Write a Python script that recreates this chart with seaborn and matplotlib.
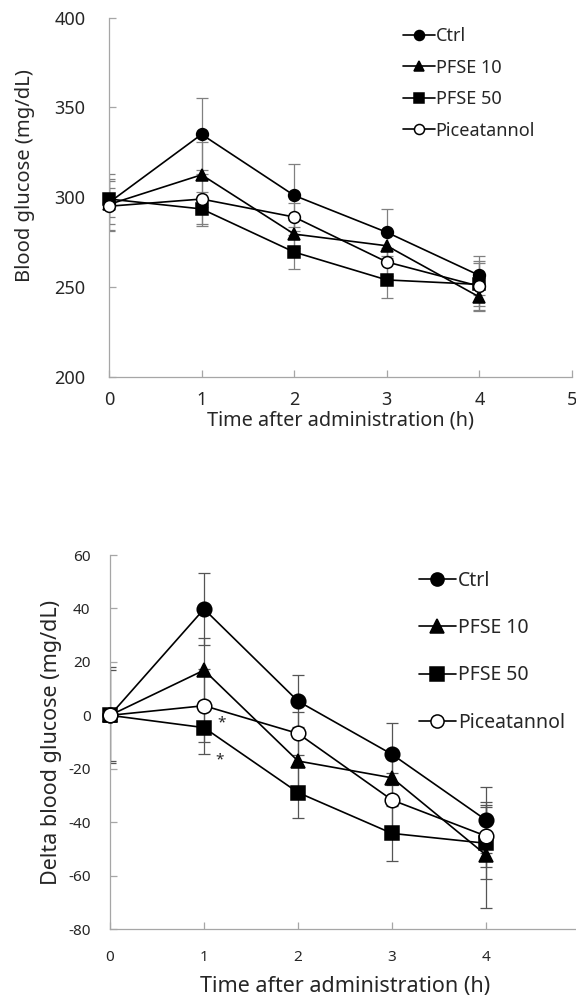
import matplotlib
matplotlib.use("Agg")
import matplotlib.pyplot as plt
import seaborn as sns
import pandas as pd

# time points (h)
times = [0, 1, 2, 3, 4]
groups = ["Ctrl", "PFSE 10", "PFSE 50", "Piceatannol"]

# blood glucose (mg/dL)
bg_ctrl = [297, 335, 301, 280.5, 256.5]
bg_pfse10 = [296, 312.5, 279.5, 273, 244.5]
bg_pfse50 = [299, 293.5, 269.5, 254, 251.5]
bg_pic = [295, 299, 289, 264, 250.5]

bg_err_ctrl = [16, 20, 17.5, 13, 11]
bg_err_pfse10 = [14, 18, 8, 7, 7.5]
bg_err_pfse50 = [10, 9.5, 9.5, 10, 12]
bg_err_pic = [10, 14, 8, 8, 14]

# delta blood glucose (mg/dL), bottom panel
d_ctrl = [0, 39.8, 5.3, -14.6, -39.2]
d_pfse10 = [0, 16.9, -17.1, -23.4, -52.3]
d_pfse50 = [0, -4.6, -28.9, -44.2, -47.9]
d_pic = [0, 3.6, -6.8, -31.7, -45.2]

d_err_ctrl = [17, 13.3, 9.8, 11.6, 12.5]
d_err_pfse10 = [18, 12, 10, 8, 20]
d_err_pfse50 = [0, 10, 9.7, 10.4, 13.4]
d_err_pic = [0, 13.7, 8, 10, 11.5]

markers = ["o", "^", "s", "o"]
faces = ["black", "black", "black", "white"]

sns.set_style("ticks")
plt.rcParams["font.family"] = ["Noto Sans", "DejaVu Sans"]
plt.rcParams["axes.unicode_minus"] = False

fig = plt.figure(figsize=(5.76, 10.01), dpi=100)
ax1 = fig.add_axes([0.1892, 0.6234, 0.8038, 0.3591])
ax2 = fig.add_axes([0.1910, 0.0719, 0.8160, 0.3736])

axis_grey = "#a6a6a6"


def draw_panel(ax, series, errors, msize, ecolor):
    rows = []
    for g, vals in zip(groups, series):
        for t, v in zip(times, vals):
            rows.append({"time": t, "value": v, "group": g})
    df = pd.DataFrame(rows)
    for vals, errs in zip(series, errors):
        ax.errorbar(times, vals, yerr=errs, fmt="none", ecolor=ecolor,
                    elinewidth=0.9, capsize=4, capthick=0.9, zorder=1)
    for i, (g, m, fc) in enumerate(zip(groups, markers, faces)):
        sns.lineplot(data=df[df["group"] == g], x="time", y="value", ax=ax,
                     color="black", marker=m, markerfacecolor=fc,
                     markeredgecolor="black", markeredgewidth=1.1,
                     markersize=msize, linewidth=1.2, label=g,
                     clip_on=False, zorder=3 + i)
    for side in ["top", "right"]:
        ax.spines[side].set_visible(False)
    for side in ["left", "bottom"]:
        ax.spines[side].set_color(axis_grey)
        ax.spines[side].set_linewidth(0.9)
    ax.tick_params(direction="in", length=5, width=0.9, color=axis_grey)


# top panel
draw_panel(ax1, [bg_ctrl, bg_pfse10, bg_pfse50, bg_pic],
           [bg_err_ctrl, bg_err_pfse10, bg_err_pfse50, bg_err_pic], 8.5, "#808080")
ax1.set_xlim(0, 5)
ax1.set_ylim(200, 400)
ax1.set_xticks([0, 1, 2, 3, 4, 5])
ax1.set_yticks([200, 250, 300, 350, 400])
ax1.tick_params(axis="y", labelsize=13, pad=17)
ax1.tick_params(axis="x", labelsize=13, pad=10)
ax1.set_xlabel("Time after administration (h)", fontsize=14.3, labelpad=1)
ax1.set_ylabel("Blood glucose (mg/dL)", fontsize=14.5)
ax1.yaxis.set_label_coords(-0.16, 0.56)
ax1.legend(loc="upper left", bbox_to_anchor=(0.6997, 0.973),
           bbox_transform=fig.transFigure, frameon=False, fontsize=13,
           handlelength=1.75, handletextpad=0.05, labelspacing=0.75,
           borderpad=0, borderaxespad=0, markerscale=0.85)

# bottom panel
draw_panel(ax2, [d_ctrl, d_pfse10, d_pfse50, d_pic],
           [d_err_ctrl, d_err_pfse10, d_err_pfse50, d_err_pic], 10.5, "#555555")
ax2.set_xlim(0, 5)
ax2.set_ylim(-80, 60)
ax2.set_xticks([0, 1, 2, 3, 4])
ax2.set_yticks([-80, -60, -40, -20, 0, 20, 40, 60])
ax2.tick_params(axis="y", labelsize=11, pad=14)
ax2.tick_params(axis="x", labelsize=11, pad=15)
ax2.set_xlabel("Time after administration (h)", fontsize=15.5, labelpad=8)
ax2.set_ylabel("Delta blood glucose (mg/dL)", fontsize=15.5, labelpad=4)
ax2.text(1.19, -2.8, "*", fontsize=11, ha="center", va="center")
ax2.text(1.17, -16.7, "*", fontsize=11, ha="center", va="center")
ax2.legend(loc="upper left", bbox_to_anchor=(0.727, 0.4296),
           bbox_transform=fig.transFigure, frameon=False, fontsize=14,
           handlelength=1.9, handletextpad=0.1, labelspacing=1.4,
           borderpad=0, borderaxespad=0, markerscale=0.9)

fig.savefig("out.png", dpi=100)
